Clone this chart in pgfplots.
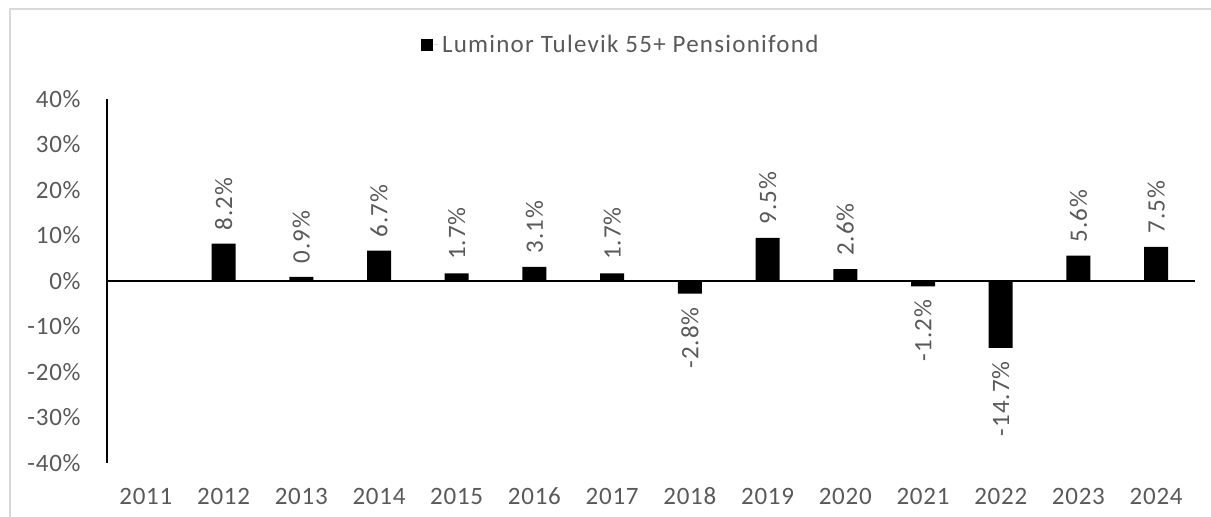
\documentclass[border=0pt]{standalone}
\usepackage{pgfplots}
\pgfplotsset{compat=1.18}
\usepackage{fontspec}
\setmainfont{Carlito}
\definecolor{txtgray}{HTML}{595959}
\definecolor{framegray}{HTML}{D9D9D9}
\begin{document}
\begin{tikzpicture}
\useasboundingbox (0,0) rectangle (605.5pt,258.5pt);
\draw[framegray, line width=0.8pt] (5pt,-2pt) -- (5pt,254pt) -- (607pt,254pt);
\begin{axis}[
  at={(53.5pt,27pt)}, anchor=south west,
  scale only axis,
  width=544pt, height=182pt,
  ybar,
  xmin=-0.5, xmax=13.5,
  ymin=-40, ymax=40,
  xtick={0,...,13},
  xticklabels={2011,2012,2013,2014,2015,2016,2017,2018,2019,2020,2021,2022,2023,2024},
  ytick={-40,-30,-20,-10,0,10,20,30,40},
  yticklabel={\pgfmathprintnumber{\tick}\%},
  /pgf/number format/assume math mode=true,
  axis y line*=left,
  axis x line*=bottom,
  x axis line style={draw=none},
  y axis line style={black, line width=0.75pt},
  major tick length=0pt,
  tick label style={font=\fontsize{12.5}{14}\selectfont\addfontfeature{LetterSpace=3}, text=txtgray},
  yticklabel style={anchor=east, inner sep=0pt, xshift=-13pt},
  xticklabel style={anchor=base, inner sep=0pt, yshift=-21pt},
  extra y ticks={0},
  extra y tick labels={},
  extra y tick style={grid=major, major grid style={black, line width=0.75pt}},
  legend style={at={(0.2883,1.1484)}, anchor=west, draw=none, fill=none, inner sep=0pt,
    font=\fontsize{12.5}{14}\selectfont\addfontfeature{LetterSpace=5}, text=txtgray},
  legend image code/.code={\fill[black] (0pt,-3pt) rectangle (6pt,3pt); \path (0pt,0pt) -- (8.5pt,0pt);},
  clip=false,
]
\addplot[fill=black, draw=none, bar width=12pt, bar shift=0pt,
  nodes near coords={\pgfmathprintnumber[fixed,fixed zerofill,precision=1]{\pgfplotspointmeta}\%},
  every node near coord/.append style={rotate=90, anchor=west, inner xsep=6.5pt, inner ysep=0pt,
    font=\fontsize{12.5}{14}\selectfont\addfontfeature{LetterSpace=4}, text=txtgray},
] coordinates {
  (1,8.2) (2,0.9) (3,6.7) (4,1.7) (5,3.1) (6,1.7) (8,9.5) (9,2.6) (12,5.6) (13,7.5)
};
\addlegendentry{Luminor Tulevik 55+ Pensionifond}
\addplot[fill=black, draw=none, bar width=12pt, bar shift=0pt, forget plot,
  nodes near coords={\pgfmathprintnumber[fixed,fixed zerofill,precision=1]{\pgfplotspointmeta}\%},
  every node near coord/.append style={rotate=90, anchor=east, inner xsep=6.5pt, inner ysep=0pt,
    font=\fontsize{12.5}{14}\selectfont\addfontfeature{LetterSpace=4}, text=txtgray},
] coordinates {
  (7,-2.8) (10,-1.2) (11,-14.7)
};
\end{axis}
\end{tikzpicture}
\end{document}
